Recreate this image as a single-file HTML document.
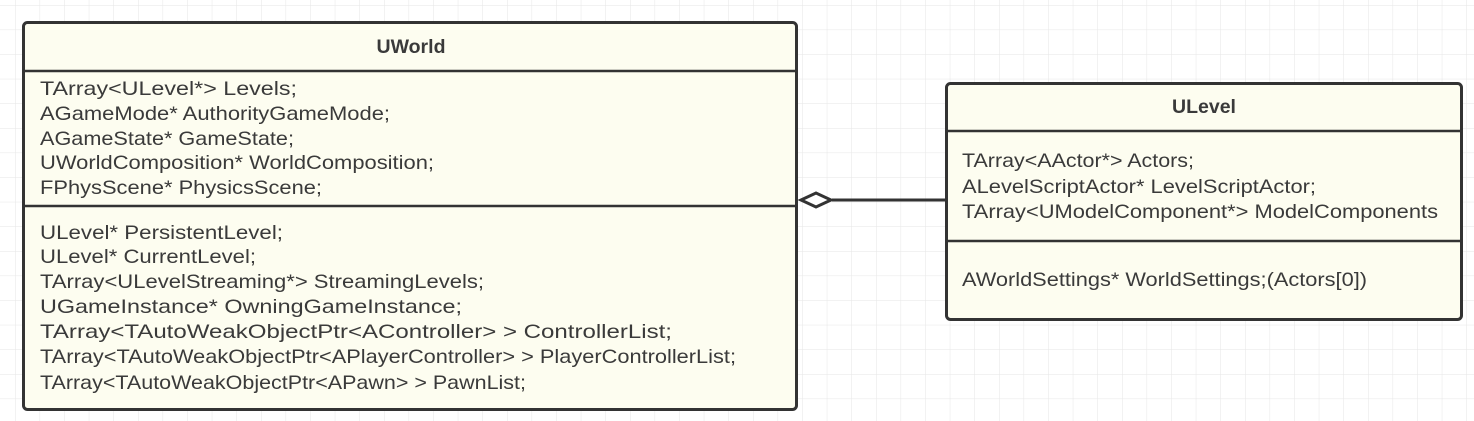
<!DOCTYPE html>
<html><head><meta charset="utf-8"><style>
html,body{margin:0;padding:0;background:#fff;}
svg{display:block;}
text{font-family:"Liberation Sans",sans-serif;font-size:19.5px;fill:#3a3a3a;}
.t{font-weight:bold;text-anchor:middle;font-size:19.5px;}
</style></head><body>
<svg width="1474" height="421" viewBox="0 0 1474 421" xmlns="http://www.w3.org/2000/svg">
<defs>
<pattern id="g" x="15" y="5" width="24.6" height="24.6" patternUnits="userSpaceOnUse">
<path d="M0 0H24.6M0 0V24.6" stroke="#e6e6e6" stroke-width="1" fill="none"/>
</pattern>
</defs>
<rect width="1474" height="421" fill="url(#g)"/>
<rect x="23.5" y="22.5" width="773" height="387" rx="4" fill="#fdfdf0" stroke="#333" stroke-width="3"/>
<line x1="23" y1="71" x2="797" y2="71" stroke="#333" stroke-width="2.5"/>
<line x1="23" y1="206" x2="797" y2="206" stroke="#333" stroke-width="2.5"/>
<text class="t" x="411" y="53">UWorld</text>
<text x="40" y="95" textLength="257" lengthAdjust="spacingAndGlyphs">TArray&lt;ULevel*&gt; Levels;</text>
<text x="40" y="120" textLength="350" lengthAdjust="spacingAndGlyphs">AGameMode* AuthorityGameMode;</text>
<text x="40" y="145" textLength="254" lengthAdjust="spacingAndGlyphs">AGameState* GameState;</text>
<text x="40" y="169" textLength="394" lengthAdjust="spacingAndGlyphs">UWorldComposition* WorldComposition;</text>
<text x="40" y="194" textLength="282" lengthAdjust="spacingAndGlyphs">FPhysScene* PhysicsScene;</text>
<text x="40" y="239" textLength="243" lengthAdjust="spacingAndGlyphs">ULevel*  PersistentLevel;</text>
<text x="40" y="263" textLength="216" lengthAdjust="spacingAndGlyphs">ULevel*  CurrentLevel;</text>
<text x="40" y="288" textLength="444" lengthAdjust="spacingAndGlyphs">TArray&lt;ULevelStreaming*&gt; StreamingLevels;</text>
<text x="40" y="313" textLength="422" lengthAdjust="spacingAndGlyphs">UGameInstance* OwningGameInstance;</text>
<text x="40" y="338" textLength="632" lengthAdjust="spacingAndGlyphs">TArray&lt;TAutoWeakObjectPtr&lt;AController&gt; &gt; ControllerList;</text>
<text x="40" y="363" textLength="696" lengthAdjust="spacingAndGlyphs">TArray&lt;TAutoWeakObjectPtr&lt;APlayerController&gt; &gt; PlayerControllerList;</text>
<text x="40" y="389" textLength="486" lengthAdjust="spacingAndGlyphs">TArray&lt;TAutoWeakObjectPtr&lt;APawn&gt; &gt; PawnList;</text>
<line x1="832" y1="200" x2="946" y2="200" stroke="#333" stroke-width="3"/>
<polygon points="801,200 816,193 831,200 816,207" fill="#fff" stroke="#333" stroke-width="3"/>
<rect x="946.5" y="83.5" width="515" height="236" rx="4" fill="#fdfdf0" stroke="#333" stroke-width="3"/>
<line x1="946" y1="131" x2="1462" y2="131" stroke="#333" stroke-width="2.5"/>
<line x1="946" y1="241" x2="1462" y2="241" stroke="#333" stroke-width="2.5"/>
<text class="t" x="1204" y="113">ULevel</text>
<text x="962" y="167" textLength="232" lengthAdjust="spacingAndGlyphs">TArray&lt;AActor*&gt; Actors;</text>
<text x="962" y="193" textLength="354" lengthAdjust="spacingAndGlyphs">ALevelScriptActor* LevelScriptActor;</text>
<text x="962" y="218" textLength="476" lengthAdjust="spacingAndGlyphs">TArray&lt;UModelComponent*&gt; ModelComponents</text>
<text x="962" y="286" textLength="405" lengthAdjust="spacingAndGlyphs">AWorldSettings* WorldSettings;(Actors[0])</text>
</svg>
</body></html>
